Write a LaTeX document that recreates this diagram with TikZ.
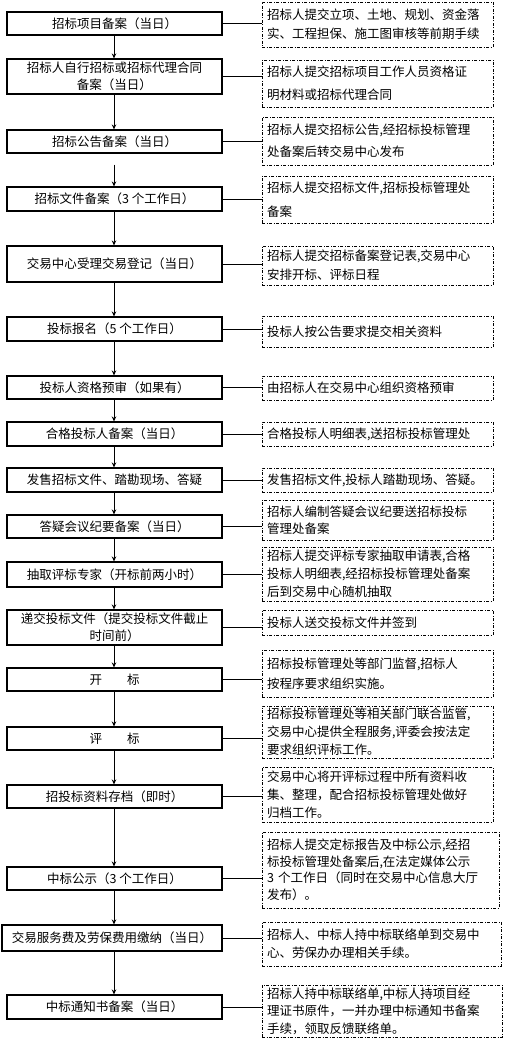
\documentclass[tikz,border=0pt]{standalone}
\usepackage{fontspec}
\setmainfont{Noto Sans CJK SC}
\usetikzlibrary{arrows.meta}
\tikzset{
  lbox/.style={draw, line width=1.1pt, minimum width=215pt, align=center, inner sep=1pt,
    font=\fontsize{12.5pt}{17pt}\selectfont},
  rbox/.style={draw, line width=0.8pt, dash pattern=on 3pt off 1.5pt on 1pt off 1.5pt,
    text width=221pt, inner xsep=5pt, inner ysep=1pt, align=left,
    font=\fontsize{12.5pt}{18pt}\selectfont},
  conn/.style={line width=0.8pt},
  arr/.style={line width=1pt, -{Stealth[length=5pt,width=4.5pt]}}
}
\begin{document}
\begin{tikzpicture}[x=1pt,y=-1pt]
\useasboundingbox (0,0) rectangle (505,1038);
% left column
\node[lbox, minimum height=23pt] (L1) at (114.5,23.5) {招标项目备案（当日）};
\node[lbox, minimum height=35pt] (L2) at (114.5,76.5) {招标人自行招标或招标代理合同\\备案（当日）};
\node[lbox, minimum height=23pt] (L3) at (114.5,141.5) {招标公告备案（当日）};
\node[lbox, minimum height=24pt] (L4) at (114.5,199) {招标文件备案（3 个工作日）};
\node[lbox, minimum height=36pt] (L5) at (114.5,264) {交易中心受理交易登记（当日）};
\node[lbox, minimum height=24pt] (L6) at (114.5,329) {投标报名（5 个工作日）};
\node[lbox, minimum height=23pt] (L7) at (114.5,387.5) {投标人资格预审（如果有）};
\node[lbox, minimum height=24pt] (L8) at (114.5,434) {合格投标人备案（当日）};
\node[lbox, minimum height=24pt] (L9) at (114.5,480) {发售招标文件、踏勘现场、答疑};
\node[lbox, minimum height=23pt] (L10) at (114.5,526.5) {答疑会议纪要备案（当日）};
\node[lbox, minimum height=25pt] (L11) at (114.5,574.5) {抽取评标专家（开标前两小时）};
\node[lbox, minimum height=35pt] (L12) at (114.5,627.5) {递交投标文件（提交投标文件截止\\时间前）};
\node[lbox, minimum height=23pt] (L13) at (114.5,679.5) {开\hspace{2em}标};
\node[lbox, minimum height=23pt] (L14) at (114.5,738.5) {评\hspace{2em}标};
\node[lbox, minimum height=23pt] (L15) at (114.5,796.5) {招投标资料存档（即时）};
\node[lbox, minimum height=23pt] (L16) at (114.5,878.5) {中标公示（3 个工作日）};
\node[lbox, minimum height=26pt, minimum width=220pt] (L17) at (112,938) {交易服务费及劳保费用缴纳（当日）};
\node[lbox, minimum height=24pt] (L18) at (114.5,1007) {中标通知书备案（当日）};
% right column
\node[rbox, minimum height=45pt, font=\fontsize{12.5pt}{19pt}\selectfont] (R1) at (377.5,24.5) {招标人提交立项、土地、规划、资金落\\实、工程担保、施工图审核等前期手续};
\node[rbox, minimum height=47pt, font=\fontsize{12.5pt}{23pt}\selectfont] (R2) at (377.5,83.5) {招标人提交招标项目工作人员资格证\\明材料或招标代理合同};
\node[rbox, minimum height=48pt, font=\fontsize{12.5pt}{22pt}\selectfont] (R3) at (377.5,141) {招标人提交招标公告,经招标投标管理\\处备案后转交易中心发布};
\node[rbox, minimum height=47pt, font=\fontsize{12.5pt}{24pt}\selectfont] (R4) at (377.5,199.5) {招标人提交招标文件,招标投标管理处\\备案};
\node[rbox, minimum height=39pt, font=\fontsize{12.5pt}{19pt}\selectfont] (R5) at (377.5,265.5) {招标人提交招标备案登记表,交易中心\\安排开标、评标日程};
\node[rbox, minimum height=31pt] (R6) at (377.5,331.5) {投标人按公告要求提交相关资料};
\node[rbox, minimum height=24pt] (R7) at (377.5,388) {由招标人在交易中心组织资格预审};
\node[rbox, minimum height=24pt] (R8) at (377.5,434) {合格投标人明细表,送招标投标管理处};
\node[rbox, minimum height=24pt] (R9) at (377.5,480) {发售招标文件,投标人踏勘现场、答疑。};
\node[rbox, minimum height=40pt, font=\fontsize{12.5pt}{17pt}\selectfont] (R10) at (377.5,520) {招标人编制答疑会议纪要送招标投标\\管理处备案};
\node[rbox, minimum height=54pt] (R11) at (377.5,574) {招标人提交评标专家抽取申请表,合格\\投标人明细表,经招标投标管理处备案\\后到交易中心随机抽取};
\node[rbox, minimum height=25pt] (R12) at (377.5,622.5) {投标人送交投标文件并签到};
\node[rbox, minimum height=47pt, font=\fontsize{12.5pt}{20pt}\selectfont] (R13) at (377.5,673.5) {招标投标管理处等部门监督,招标人\\按程序要求组织实施。};
\node[rbox, minimum height=52pt] (R14) at (377.5,732) {招标投标管理处等相关部门联合监管,\\交易中心提供全程服务,评委会按法定\\要求组织评标工作。};
\node[rbox, minimum height=55pt] (R15) at (377.5,794.5) {交易中心将开评标过程中所有资料收\\集、整理，配合招标投标管理处做好\\归档工作。};
\node[rbox, minimum height=76pt, text width=227pt, font=\fontsize{12.5pt}{16.5pt}\selectfont] (R16) at (380.5,870) {招标人提交定标报告及中标公示,经招\\标投标管理处备案后,在法定媒体公示\\3 个工作日（同时在交易中心信息大厅\\发布）。};
\node[rbox, minimum height=44pt, text width=229pt] (R17) at (381.5,944) {招标人、中标人持中标联络单到交易中\\心、劳保办办理相关手续。};
\node[rbox, minimum height=52pt, text width=230pt, font=\fontsize{12.5pt}{17.5pt}\selectfont] (R18) at (382,1011) {招标人持中标联络单,中标人持项目经\\理证书原件，一并办理中标通知书备案\\手续，领取反馈联络单。};
% connectors
\foreach \i in {1,...,18}{
  \draw[conn] (L\i.east) -- (L\i.east -| R\i.west);
}
% arrows
\foreach \a/\b in {1/2,2/3,4/5,5/6,6/7,7/8,8/9,9/10,10/11,11/12,12/13,13/14,14/15,15/16,16/17,17/18}{
  \draw[arr] (L\a.south -| 114,0) -- (L\b.north -| 114,0);
}
\draw[arr, shorten <=11pt] (L3.south -| 114,0) -- (L4.north -| 114,0);
\end{tikzpicture}
\end{document}
